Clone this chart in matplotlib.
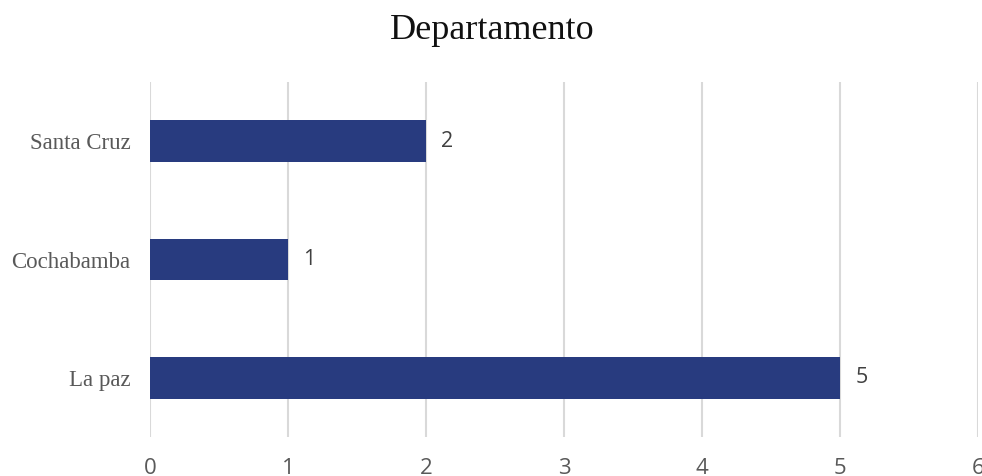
import matplotlib
matplotlib.use('Agg')
import matplotlib.pyplot as plt

# categories listed bottom to top, as they appear on the y axis
departamentos = ['La paz', 'Cochabamba', 'Santa Cruz']
cantidades = [5, 1, 2]
x_ticks = [0, 1, 2, 3, 4, 5, 6]

bar_color = '#283b7f'
text_grey = '#595959'
grid_grey = '#d9d9d9'

fig = plt.figure(figsize=(9.82, 4.76), dpi=100)
ax = fig.add_axes([0.1527, 0.0819, 0.8432, 0.7458])

pos = list(range(len(departamentos)))
ax.barh(pos, cantidades, height=0.35, color=bar_color, zorder=3)

# value labels next to each bar
for y, v in zip(pos, cantidades):
    ax.text(v + 0.11, y, str(v), va='center', ha='left', fontsize=15.5,
            family='Open Sans', color='#404040')

ax.set_xlim(0, 6)
ax.set_ylim(-0.5, 2.5)
ax.set_xticks(x_ticks)
ax.set_xticklabels([str(t) for t in x_ticks], family='Open Sans',
                   fontsize=16, color=text_grey)
ax.set_yticks(pos)
ax.set_yticklabels(departamentos, family='Liberation Serif',
                   fontsize=16.5, color=text_grey)
ax.tick_params(axis='x', length=0, pad=15)
ax.tick_params(axis='y', length=0, pad=14)

ax.grid(axis='x', color=grid_grey, linewidth=1.5, zorder=0)
for s in ax.spines.values():
    s.set_visible(False)

fig.text(0.501, 0.935, 'Departamento', ha='center', va='center',
         family='Liberation Serif', fontsize=26, color='#111111')

plt.savefig('out.png', dpi=100)
